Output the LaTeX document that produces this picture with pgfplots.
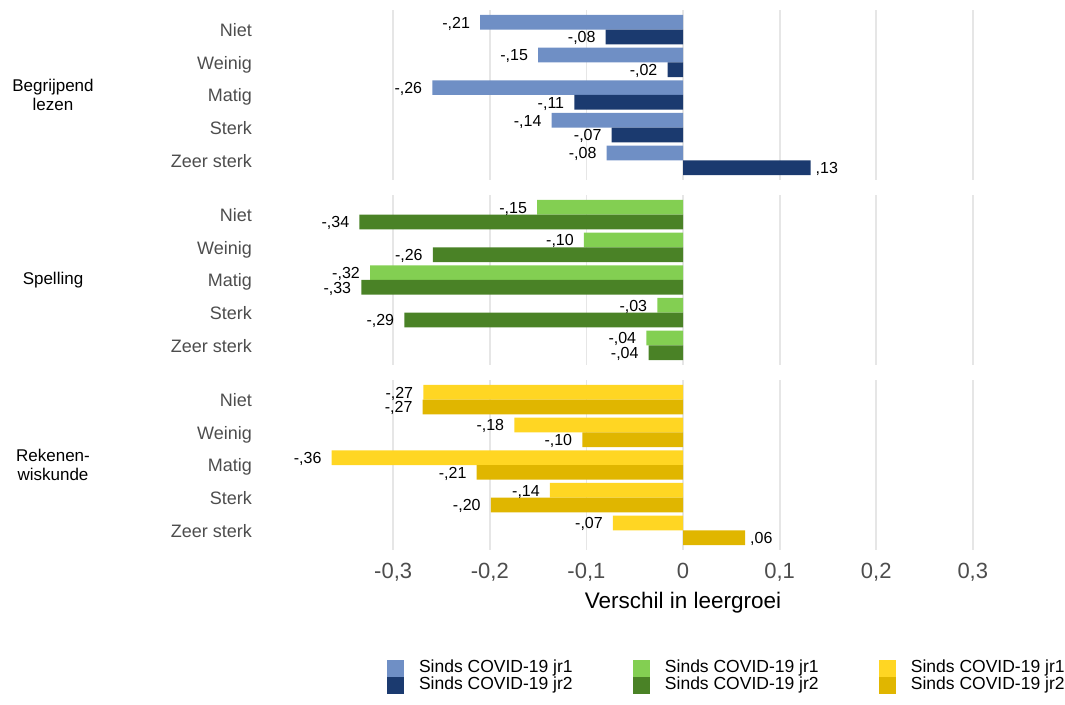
\documentclass[border=0pt]{standalone}
\usepackage{fontspec}
\setmainfont{Liberation Sans}
\usepackage{pgfplots}
\usepackage{pgfplotstable}
\pgfplotsset{compat=1.18}
\definecolor{bl1}{HTML}{6F8FC5}
\definecolor{bl2}{HTML}{1B3A6F}
\definecolor{gr1}{HTML}{83CF52}
\definecolor{gr2}{HTML}{4A8226}
\definecolor{ye1}{HTML}{FFD623}
\definecolor{ye2}{HTML}{E0B600}
\definecolor{gridc}{HTML}{E6E6E6}
\definecolor{tickc}{HTML}{4D4D4D}

% Begrijpend lezen
\pgfplotstableread{
y v1 l1 v2 l2
5 -0.2100 -,21 -0.0800 -,08
4 -0.1500 -,15 -0.0160 -,02
3 -0.2595 -,26 -0.1125 -,11
2 -0.1360 -,14 -0.0738 -,07
1 -0.0790 -,08 0.1320 ,13
}\tA
% Spelling
\pgfplotstableread{
y v1 l1 v2 l2
5 -0.1510 -,15 -0.3350 -,34
4 -0.1025 -,10 -0.2590 -,26
3 -0.3240 -,32 -0.3330 -,33
2 -0.0266 -,03 -0.2885 -,29
1 -0.0380 -,04 -0.0355 -,04
}\tB
% Rekenen-wiskunde
\pgfplotstableread{
y v1 l1 v2 l2
5 -0.2688 -,27 -0.2695 -,27
4 -0.1746 -,18 -0.1042 -,10
3 -0.3637 -,36 -0.2136 -,21
2 -0.1377 -,14 -0.1990 -,20
1 -0.0725 -,07 0.0642 ,06
}\tC

\pgfplotsset{
  panel/.style={
    scale only axis, width=753.48pt, height=170pt,
    anchor=south west,
    xmin=-0.40, xmax=0.38, ymin=0.4, ymax=5.6,
    xbar, bar width=0.45, bar shift=0pt,
    axis line style={draw=none}, major tick length=0pt, tick style={draw=none},
    xtick={-0.3,-0.2,-0.1,0,0.1,0.2,0.3},
    xmajorgrids, grid style={line width=1.8pt, color=gridc},
    ytick={1,2,3,4,5}, yticklabels={Zeer sterk,Sterk,Matig,Weinig,Niet},
    yticklabel style={anchor=base east, inner sep=0pt, xshift=-44.6pt, yshift=-7pt,
      font=\fontsize{18}{20}\selectfont, text=tickc},
    nodes near coords, point meta=explicit symbolic,
    every node near coord/.append style={font=\fontsize{16}{18}\selectfont,
      inner xsep=7.5pt, inner ysep=0pt, text height=11.5pt, text depth=0pt, text=black},
    every axis y label/.style={at={(axis description cs:0,0.5)}, anchor=center,
      xshift=-243.6pt, align=center, rotate=0, font=\fontsize{17}{18.5}\selectfont, text=black},
    clip=false,
    legend image code/.code={\fill[##1] (0pt,-8.5pt) rectangle (17pt,8.5pt);},
  },
  lab/.style={
    visualization depends on={\thisrow{#1}\as\rawv},
    every node near coord/.append style={
      anchor={\ifdim\rawv pt<0pt east\else west\fi}, xshift=-2.5pt},
  },
}

\begin{document}
\begin{tikzpicture}
\path[use as bounding box] (0pt,0pt) rectangle (1065pt,704pt);

\begin{axis}[panel, at={(296.6pt,524pt)}, xticklabels={}, ylabel={Begrijpend\\lezen}]
\addplot[fill=bl1, draw=none, lab=v1] table[x=v1, y expr=\thisrow{y}+0.225, meta=l1] {\tA};
\addplot[fill=bl2, draw=none, lab=v2] table[x=v2, y expr=\thisrow{y}-0.225, meta=l2] {\tA};
\end{axis}

\begin{axis}[panel, at={(296.6pt,339pt)}, xticklabels={}, ylabel={Spelling}]
\addplot[fill=gr1, draw=none, lab=v1] table[x=v1, y expr=\thisrow{y}+0.225, meta=l1] {\tB};
\addplot[fill=gr2, draw=none, lab=v2] table[x=v2, y expr=\thisrow{y}-0.225, meta=l2] {\tB};
\end{axis}

\begin{axis}[panel, at={(296.6pt,154pt)}, ylabel={Rekenen-\\wiskunde},
  xticklabel style={anchor=base, yshift=-28.3pt, font=\fontsize{22}{24}\selectfont, text=tickc},
  /pgf/number format/.cd, use comma, fixed, precision=1, assume math mode=true, /pgfplots/.cd,
  xlabel={Verschil in leergroei},
  every axis x label/.style={at={(axis description cs:0.51282,0)}, anchor=base,
    yshift=-58.3pt, font=\fontsize{22.5}{24}\selectfont, text=black},
  legend style={at={(axis description cs:0.12,-0.647)}, anchor=north west, draw=none, fill=none,
    inner sep=0pt, outer sep=0pt, legend columns=3, legend cell align=left,
    font=\fontsize{17.5}{19}\selectfont,
    nodes={inner xsep=0pt, inner ysep=0pt, text height=13pt, text depth=4pt},
    /tikz/every odd column/.append style={column sep=15pt},
    /tikz/every even column/.append style={column sep=60.3pt}},
]
\addlegendimage{fill=bl1, draw=none}\addlegendentry{Sinds COVID-19 jr1}
\addlegendimage{fill=gr1, draw=none}\addlegendentry{Sinds COVID-19 jr1}
\addlegendimage{fill=ye1, draw=none}\addlegendentry{Sinds COVID-19 jr1}
\addlegendimage{fill=bl2, draw=none}\addlegendentry{Sinds COVID-19 jr2}
\addlegendimage{fill=gr2, draw=none}\addlegendentry{Sinds COVID-19 jr2}
\addlegendimage{fill=ye2, draw=none}\addlegendentry{Sinds COVID-19 jr2}
\addplot[fill=ye1, draw=none, forget plot, lab=v1] table[x=v1, y expr=\thisrow{y}+0.225, meta=l1] {\tC};
\addplot[fill=ye2, draw=none, forget plot, lab=v2] table[x=v2, y expr=\thisrow{y}-0.225, meta=l2] {\tC};
\end{axis}
\end{tikzpicture}
\end{document}
